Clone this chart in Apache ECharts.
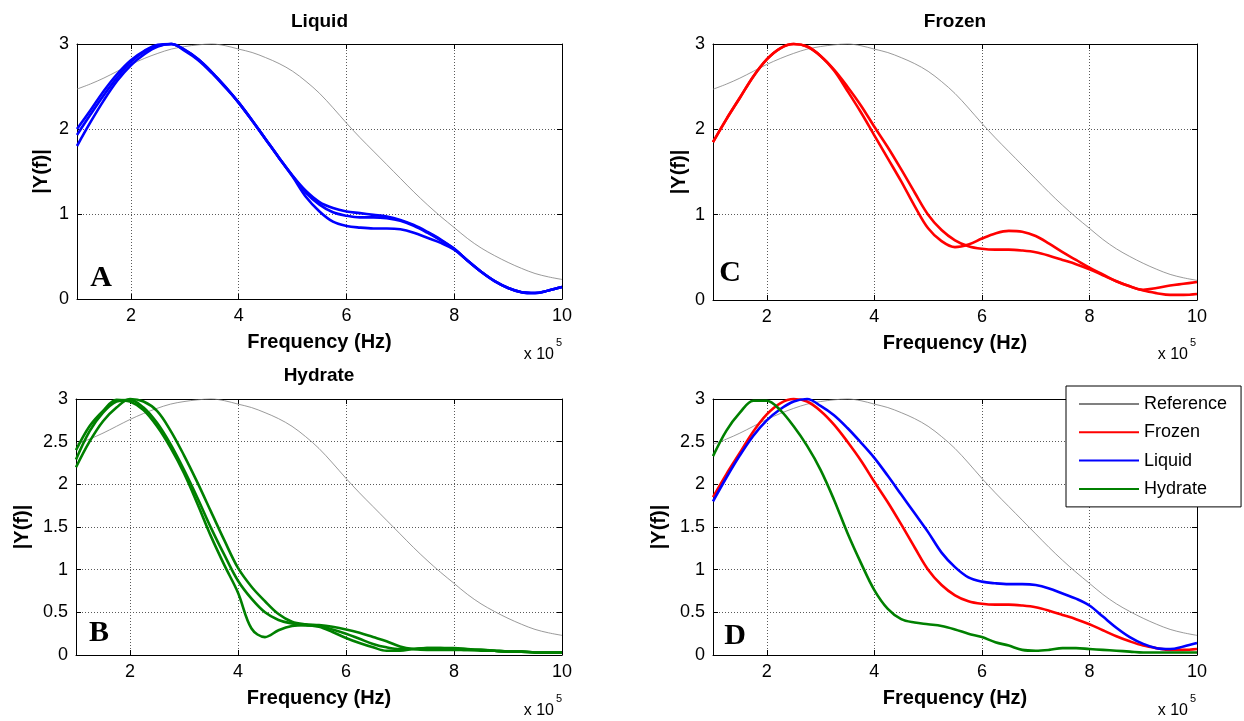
<!DOCTYPE html>
<html>
<head>
<meta charset="utf-8">
<title>|Y(f)| spectra</title>
<script src="https://cdn.jsdelivr.net/npm/echarts@6/dist/echarts.min.js"></script>
<style>
  html, body { margin: 0; padding: 0; background: #fff; }
  #chart { width: 1244px; height: 721px; }
</style>
</head>
<body>
<div id="chart"></div>
<script>
// Frequency samples, in units of 1e5 Hz
const freq = [1.00, 1.25, 1.50, 1.75, 2.00, 2.25, 2.50, 2.75, 3.00, 3.25, 3.50, 3.75, 4.00, 4.25, 4.50, 4.75, 5.00, 5.25, 5.50, 5.75, 6.00, 6.25, 6.50, 6.75, 7.00, 7.25, 7.50, 7.75, 8.00, 8.25, 8.50, 8.75, 9.00, 9.25, 9.50, 9.75, 10.00];

// Reference spectrum (drawn in every panel)
const reference = [2.47, 2.53, 2.60, 2.68, 2.76, 2.83, 2.89, 2.94, 2.97, 2.99, 3.00, 2.98, 2.94, 2.90, 2.84, 2.77, 2.68, 2.56, 2.42, 2.25, 2.07, 1.90, 1.74, 1.58, 1.42, 1.26, 1.11, 0.97, 0.84, 0.71, 0.60, 0.51, 0.43, 0.36, 0.30, 0.26, 0.23];

// Liquid runs
const liquid1 = [2.00, 2.22, 2.45, 2.65, 2.81, 2.92, 2.99, 3.00, 2.93, 2.82, 2.67, 2.50, 2.31, 2.10, 1.88, 1.66, 1.45, 1.27, 1.14, 1.07, 1.03, 1.01, 0.99, 0.97, 0.93, 0.87, 0.79, 0.70, 0.59, 0.45, 0.32, 0.21, 0.13, 0.08, 0.07, 0.10, 0.14];
const liquid2 = [1.93, 2.17, 2.40, 2.61, 2.79, 2.91, 2.98, 3.00, 2.93, 2.82, 2.67, 2.50, 2.31, 2.10, 1.88, 1.66, 1.45, 1.25, 1.11, 1.02, 0.98, 0.96, 0.96, 0.95, 0.92, 0.86, 0.78, 0.69, 0.59, 0.45, 0.32, 0.21, 0.13, 0.08, 0.07, 0.10, 0.14];
const liquid3 = [1.80, 2.08, 2.34, 2.57, 2.75, 2.88, 2.97, 3.00, 2.92, 2.81, 2.66, 2.49, 2.31, 2.10, 1.88, 1.66, 1.44, 1.20, 1.03, 0.91, 0.86, 0.84, 0.83, 0.83, 0.82, 0.78, 0.72, 0.66, 0.58, 0.45, 0.32, 0.21, 0.13, 0.08, 0.07, 0.10, 0.14];

// Frozen runs
const frozen1 = [1.85, 2.12, 2.37, 2.62, 2.82, 2.95, 3.00, 2.97, 2.86, 2.70, 2.50, 2.28, 2.03, 1.79, 1.53, 1.26, 1.00, 0.82, 0.70, 0.63, 0.60, 0.59, 0.59, 0.58, 0.56, 0.52, 0.47, 0.42, 0.36, 0.29, 0.22, 0.16, 0.11, 0.08, 0.06, 0.06, 0.07];
const frozen2 = [1.85, 2.12, 2.37, 2.62, 2.82, 2.95, 3.00, 2.97, 2.86, 2.69, 2.45, 2.20, 1.93, 1.66, 1.39, 1.10, 0.84, 0.69, 0.62, 0.65, 0.72, 0.78, 0.81, 0.80, 0.75, 0.66, 0.56, 0.47, 0.38, 0.30, 0.22, 0.16, 0.12, 0.14, 0.17, 0.19, 0.21];

// Hydrate runs
const hydrate1 = [2.40, 2.68, 2.86, 2.99, 2.97, 2.87, 2.68, 2.43, 2.13, 1.77, 1.39, 1.05, 0.73, 0.31, 0.21, 0.29, 0.34, 0.35, 0.33, 0.27, 0.20, 0.14, 0.09, 0.05, 0.05, 0.07, 0.08, 0.08, 0.08, 0.07, 0.06, 0.05, 0.04, 0.04, 0.03, 0.03, 0.03];
const hydrate2 = [2.29, 2.62, 2.84, 2.97, 2.99, 2.90, 2.72, 2.47, 2.17, 1.84, 1.49, 1.17, 0.87, 0.66, 0.50, 0.41, 0.37, 0.35, 0.34, 0.30, 0.25, 0.19, 0.13, 0.09, 0.07, 0.07, 0.08, 0.08, 0.07, 0.06, 0.06, 0.05, 0.04, 0.04, 0.03, 0.03, 0.03];
const hydrate3 = [2.20, 2.50, 2.74, 2.90, 3.00, 2.97, 2.86, 2.63, 2.34, 2.02, 1.68, 1.34, 1.02, 0.80, 0.63, 0.48, 0.39, 0.36, 0.35, 0.33, 0.30, 0.26, 0.21, 0.16, 0.10, 0.07, 0.06, 0.06, 0.06, 0.06, 0.05, 0.05, 0.04, 0.04, 0.03, 0.03, 0.03];

// Comparison panel curves
const frozenD = frozen1;
const liquidD = liquid3;
const hydrateD = [2.33, 2.63, 2.84, 2.98, 2.98, 2.87, 2.68, 2.45, 2.17, 1.82, 1.43, 1.08, 0.76, 0.54, 0.42, 0.38, 0.36, 0.34, 0.30, 0.25, 0.21, 0.15, 0.11, 0.06, 0.05, 0.06, 0.08, 0.08, 0.07, 0.06, 0.05, 0.04, 0.03, 0.03, 0.03, 0.03, 0.03];

// Axis ticks
const xTicks = [2, 4, 6, 8, 10];
const legendNames = ['Reference', 'Frozen', 'Liquid', 'Hydrate'];

const SANS = '"Liberation Sans", Arial, Helvetica, sans-serif';
const SERIF = '"Liberation Serif", "Times New Roman", serif';
const BLUE = '#0000ff', RED = '#ff0000', GREEN = '#008000', GREY = '#808080';

const pairs = ys => freq.map((x, i) => [x, ys[i]]);

const panels = [
  { grid: { left: 77, top: 44, width: 485, height: 255 }, yStep: 1, yNameGap: 26,
    title: 'Liquid', titleY: 22, letter: 'A', letterPos: [101, 278], mult: [554, 355],
    lines: [['Liquid 1', liquid1, BLUE], ['Liquid 2', liquid2, BLUE], ['Liquid 3', liquid3, BLUE]] },
  { grid: { left: 713, top: 44, width: 484, height: 256 }, yStep: 1, yNameGap: 24,
    title: 'Frozen', titleY: 22, letter: 'C', letterPos: [730, 273], mult: [1188, 355],
    lines: [['Frozen 1', frozen1, RED], ['Frozen 2', frozen2, RED]] },
  { grid: { left: 76, top: 399, width: 486, height: 256 }, yStep: 0.5, yNameGap: 44,
    title: 'Hydrate', titleY: 376, letter: 'B', letterPos: [99, 633], mult: [554, 711],
    lines: [['Hydrate 1', hydrate1, GREEN], ['Hydrate 2', hydrate2, GREEN], ['Hydrate 3', hydrate3, GREEN]] },
  { grid: { left: 713, top: 399, width: 484, height: 256 }, yStep: 0.5, yNameGap: 44,
    title: '', titleY: 0, letter: 'D', letterPos: [735, 636], mult: [1188, 711],
    lines: [['Frozen', frozenD, RED], ['Liquid', liquidD, BLUE], ['Hydrate', hydrateD, GREEN]] }
];

const grids = [], xAxes = [], yAxes = [], series = [], graphics = [];
const tickLabel = { fontSize: 18, fontFamily: SANS, color: '#000' };
const nameStyle = { fontSize: 20, fontWeight: 'bold', fontFamily: SANS, color: '#000' };
const gridLine = { show: true, lineStyle: { color: '#5a5a5a', width: 1, type: [1, 2] } };
const frame = { show: true, onZero: false, lineStyle: { color: '#000', width: 1 } };

panels.forEach((p, g) => {
  grids.push(Object.assign({ containLabel: false }, p.grid));

  // bottom & top x axes
  xAxes.push({
    gridIndex: g, type: 'value', min: 1, max: 10, position: 'bottom',
    axisLine: frame,
    axisTick: { show: true, inside: true, length: 5, customValues: xTicks, lineStyle: { color: '#000' } },
    axisLabel: Object.assign({ customValues: xTicks, margin: 8 }, tickLabel),
    splitLine: gridLine,
    name: 'Frequency (Hz)', nameLocation: 'middle', nameGap: 33, nameTextStyle: nameStyle
  });
  xAxes.push({
    gridIndex: g, type: 'value', min: 1, max: 10, position: 'top',
    axisLine: frame,
    axisTick: { show: true, inside: true, length: 5, customValues: xTicks, lineStyle: { color: '#000' } },
    axisLabel: { show: false },
    splitLine: { show: false }
  });

  // left & right y axes
  yAxes.push({
    gridIndex: g, type: 'value', min: 0, max: 3, interval: p.yStep, position: 'left',
    axisLine: frame,
    axisTick: { show: true, inside: true, length: 5, lineStyle: { color: '#000' } },
    axisLabel: Object.assign({ margin: 8 }, tickLabel),
    splitLine: gridLine,
    name: '|Y(f)|', nameLocation: 'middle', nameGap: p.yNameGap, nameTextStyle: nameStyle
  });
  yAxes.push({
    gridIndex: g, type: 'value', min: 0, max: 3, interval: p.yStep, position: 'right',
    axisLine: frame,
    axisTick: { show: true, inside: true, length: 5, lineStyle: { color: '#000' } },
    axisLabel: { show: false },
    splitLine: { show: false }
  });

  const common = { type: 'line', xAxisIndex: 2 * g, yAxisIndex: 2 * g, symbol: 'none', smooth: 0.35, clip: false, animation: false };
  series.push(Object.assign({ name: 'Reference', data: pairs(reference), lineStyle: { color: GREY, width: 0.8 }, itemStyle: { color: GREY }, z: 2 }, common));
  p.lines.forEach(([name, ys, color]) => {
    series.push(Object.assign({ name, data: pairs(ys), lineStyle: { color, width: 2.6 }, itemStyle: { color }, z: 3 }, common));
  });

  if (p.title) {
    graphics.push({ type: 'text', x: p.grid.left + p.grid.width / 2, y: p.titleY,
      style: { text: p.title, font: 'bold 19px ' + SANS, fill: '#000', align: 'center', verticalAlign: 'middle', textAlign: 'center', textVerticalAlign: 'middle' } });
  }
  graphics.push({ type: 'text', x: p.letterPos[0], y: p.letterPos[1],
    style: { text: p.letter, font: 'bold 30px ' + SERIF, fill: '#000', align: 'center', verticalAlign: 'middle', textAlign: 'center', textVerticalAlign: 'middle' } });
  graphics.push({ type: 'text', x: p.mult[0], y: p.mult[1],
    style: { text: 'x 10', font: '16px ' + SANS, fill: '#000', align: 'right', verticalAlign: 'middle', textAlign: 'right', textVerticalAlign: 'middle' } });
  graphics.push({ type: 'text', x: p.mult[0] + 2, y: p.mult[1] - 12,
    style: { text: '5', font: '11px ' + SANS, fill: '#000', align: 'left', verticalAlign: 'middle', textAlign: 'left', textVerticalAlign: 'middle' } });
});

const chart = echarts.init(document.getElementById('chart'), null, { renderer: 'canvas' });
chart.setOption({
  backgroundColor: '#fff',
  animation: false,
  grid: grids,
  xAxis: xAxes,
  yAxis: yAxes,
  series: series,
  legend: {
    data: legendNames,
    orient: 'vertical',
    left: 1066, top: 386,
    padding: [8, 14, 8, 12],
    itemWidth: 60, itemHeight: 14, itemGap: 8.3, itemTextGap: 7,
    itemStyle: { opacity: 0 },
    backgroundColor: '#fff', borderColor: '#000', borderWidth: 1, borderRadius: 0,
    selectedMode: false,
    textStyle: { fontSize: 18, fontFamily: SANS, color: '#000', lineHeight: 20 }
  },
  graphic: graphics
});
</script>
</body>
</html>
